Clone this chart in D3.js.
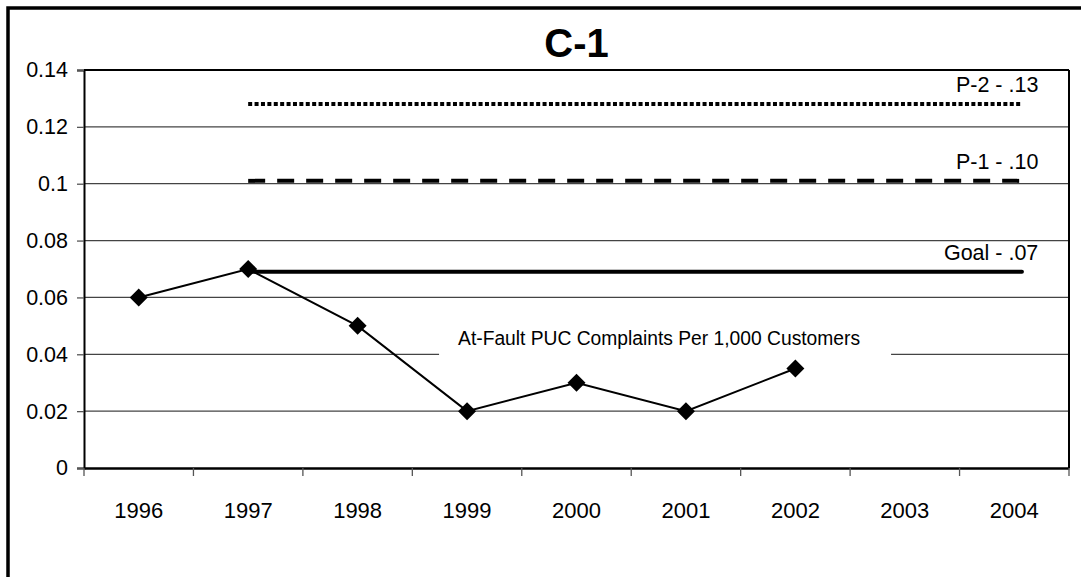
<!DOCTYPE html>
<html><head><meta charset="utf-8">
<script src="https://cdn.jsdelivr.net/npm/d3@7"></script>
<style>
html,body{margin:0;padding:0;background:#fff;}
svg{display:block;font-family:"Liberation Sans",Arial,sans-serif;}
</style></head>
<body>
<svg id="chart" width="1081" height="577"></svg>
<script>
// ---- data ----
const years = ["1996","1997","1998","1999","2000","2001","2002","2003","2004"];
const complaints = [0.06, 0.07, 0.05, 0.02, 0.03, 0.02, 0.035];
const yTicks = [0, 0.02, 0.04, 0.06, 0.08, 0.1, 0.12, 0.14];
const yTickLabels = ["0","0.02","0.04","0.06","0.08","0.1","0.12","0.14"];
const refNames = ["P-2 - .13", "P-1 - .10", "Goal - .07"];
const refValues = [0.128, 0.101, 0.069];
const refStart = ["1997","1997","1997"];
const refEnd = ["2004","2004","2004"];
const seriesLabel = "At-Fault PUC Complaints Per 1,000 Customers";
const title = "C-1";

// ---- layout ----
const svg = d3.select("#chart");
const m = {left:84, right:1069, top:70, bottom:468};
const x = d3.scaleBand().domain(years).range([m.left, m.right]).padding(0);
const y = d3.scaleLinear().domain([0, 0.14]).range([m.bottom, m.top]);
const cx = d => x(d) + x.bandwidth()/2;

// outer frame (only top/left visible)
svg.append("rect").attr("x",8).attr("y",8).attr("width",1200).attr("height",800)
  .attr("fill","none").attr("stroke","#000").attr("stroke-width",3.5);

// title
svg.append("text").attr("x",(m.left+m.right)/2).attr("y",57)
  .attr("text-anchor","middle").attr("font-size",40).attr("font-weight","bold")
  .text(title);

// gridlines
svg.append("g").selectAll("line").data(yTicks.filter(t=>t>0 && t<0.14)).join("line")
  .attr("x1",m.left).attr("x2",m.right).attr("y1",d=>y(d)).attr("y2",d=>y(d))
  .attr("stroke","#444").attr("stroke-width",1.3);

// plot frame top/right
svg.append("line").attr("x1",m.left).attr("x2",m.right).attr("y1",m.top).attr("y2",m.top)
  .attr("stroke","#000").attr("stroke-width",2);
svg.append("line").attr("x1",m.right).attr("x2",m.right).attr("y1",m.top).attr("y2",m.bottom)
  .attr("stroke","#000").attr("stroke-width",2);

// y axis
const yAxis = d3.axisLeft(y).tickValues(yTicks).tickFormat((d,i)=>yTickLabels[i]).tickSize(7).tickPadding(9);
const gy = svg.append("g").attr("transform",`translate(${m.left},0)`).call(yAxis);
gy.select(".domain").attr("stroke","#000").attr("stroke-width",2);
gy.selectAll(".tick line").attr("stroke","#555").attr("stroke-width",1.3);
gy.selectAll(".tick text").attr("font-size",21.5).attr("fill","#000")
  .attr("font-family","'Liberation Sans',Arial,sans-serif");

// x axis
const xAxis = d3.axisBottom(x).tickSize(0).tickPadding(34);
const gx = svg.append("g").attr("transform",`translate(0,${m.bottom})`).call(xAxis);
gx.select(".domain").attr("stroke","#000").attr("stroke-width",2.5);
gx.selectAll(".tick text").attr("font-size",22).attr("fill","#000")
  .attr("font-family","'Liberation Sans',Arial,sans-serif");
// band boundary ticks
const bounds = years.map(d=>x(d)).concat([x(years[years.length-1])+x.bandwidth()]);
svg.append("g").selectAll("line").data(bounds).join("line")
  .attr("x1",d=>d).attr("x2",d=>d).attr("y1",m.bottom).attr("y2",m.bottom+8)
  .attr("stroke","#555").attr("stroke-width",1.3);

// series label with white box
const lbl = svg.append("g");
lbl.append("rect").attr("x",cx("1999")-28).attr("y",y(0.0505)).attr("width",452)
  .attr("height",y(0.038)-y(0.0505)).attr("fill","#fff");
lbl.append("text").attr("x",(cx("1999")-28+cx("1999")+424)/2-6).attr("y",y(0.0431))
  .attr("text-anchor","middle").attr("font-size",20).attr("textLength",402)
  .attr("lengthAdjust","spacingAndGlyphs").text(seriesLabel);

// reference lines
const refStyles = [
  {w:4, dash:"4,2.4", cap:"butt"},
  {w:4, dash:"17,12", cap:"butt"},
  {w:4, dash:null, cap:"round"}
];
refValues.forEach((v,i)=>{
  const ln = svg.append("line")
    .attr("x1",cx(refStart[i])).attr("x2",cx(refEnd[i]) + x.bandwidth()*0.07)
    .attr("y1",y(v)).attr("y2",y(v))
    .attr("stroke","#000").attr("stroke-width",refStyles[i].w)
    .attr("stroke-linecap",refStyles[i].cap);
  if (refStyles[i].dash) ln.attr("stroke-dasharray",refStyles[i].dash);
  svg.append("text").attr("x",cx(refEnd[i]) + x.bandwidth()*0.22).attr("y",y(v)-12)
    .attr("text-anchor","end").attr("font-size",21.5).text(refNames[i]);
});

// series line
const pts = complaints.map((v,i)=>({x:cx(years[i]), y:y(v)}));
svg.append("path").datum(pts)
  .attr("d", d3.line().x(d=>d.x).y(d=>d.y))
  .attr("fill","none").attr("stroke","#000").attr("stroke-width",2);
svg.append("g").selectAll("path").data(pts).join("path")
  .attr("transform",d=>`translate(${d.x},${d.y})`)
  .attr("d","M0,-9L9,0L0,9L-9,0Z").attr("fill","#000");
</script>
</body></html>
